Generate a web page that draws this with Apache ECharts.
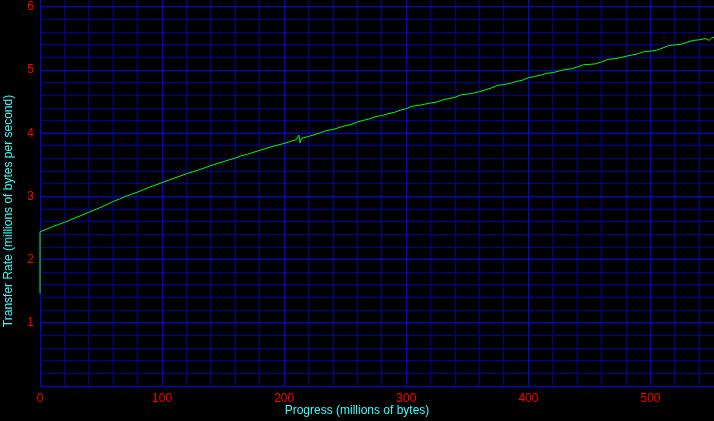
<!DOCTYPE html>
<html>
<head>
<meta charset="utf-8">
<script src="https://cdn.jsdelivr.net/npm/echarts@6/dist/echarts.min.js"></script>
<style>
html,body{margin:0;padding:0;background:#000;}
#chart{width:714px;height:421px;}
</style>
</head>
<body>
<div id="chart"></div>
<script>
// Progress (millions of bytes)
var progress = [0, 0, 5, 10, 15, 20, 25, 30, 35, 40, 45, 50, 55, 60, 65, 70, 75, 80, 85, 90, 95,
  100, 105, 110, 115, 120, 125, 130, 135, 140, 145, 150, 155, 160, 165, 170, 175, 180, 185, 190, 195,
  200, 205, 210, 212, 213, 214, 215, 220, 225, 230, 235, 240, 245, 250, 255, 260, 265, 270, 275, 280, 285, 290, 295,
  300, 305, 310, 315, 320, 325, 330, 335, 340, 345, 350, 355, 360, 365, 370, 375, 380, 385, 390, 395,
  400, 405, 410, 415, 420, 425, 430, 435, 440, 445, 450, 455, 460, 465, 470, 475, 480, 485, 490, 495,
  500, 505, 510, 515, 520, 525, 530, 535, 540, 545, 548, 550, 552];
// Transfer rate (millions of bytes per second)
var rate = [1.47, 2.44, 2.48, 2.52, 2.555, 2.59, 2.63, 2.67, 2.71, 2.75, 2.79, 2.83, 2.875, 2.92, 2.96, 3.00, 3.035, 3.07, 3.11, 3.15, 3.185,
  3.22, 3.255, 3.29, 3.325, 3.36, 3.39, 3.42, 3.455, 3.49, 3.52, 3.55, 3.58, 3.61, 3.645, 3.67, 3.70, 3.73, 3.76, 3.79, 3.815,
  3.84, 3.87, 3.90, 3.97, 3.85, 3.92, 3.925, 3.95, 3.98, 4.01, 4.045, 4.06, 4.09, 4.12, 4.14, 4.18, 4.205, 4.23, 4.265, 4.28, 4.31, 4.33, 4.365,
  4.39, 4.43, 4.44, 4.46, 4.48, 4.495, 4.53, 4.55, 4.57, 4.61, 4.62, 4.635, 4.66, 4.69, 4.72, 4.76, 4.77, 4.79, 4.82, 4.84,
  4.88, 4.90, 4.92, 4.95, 4.96, 4.985, 5.01, 5.02, 5.05, 5.085, 5.09, 5.10, 5.13, 5.17, 5.18, 5.195, 5.22, 5.24, 5.26, 5.295,
  5.30, 5.315, 5.35, 5.39, 5.40, 5.41, 5.44, 5.47, 5.48, 5.50, 5.47, 5.51, 5.52];
// Grid line values
var xMajorTicks = [100, 200, 300, 400, 500];
var xMinorTicks = [20, 40, 60, 80, 120, 140, 160, 180, 220, 240, 260, 280, 320, 340, 360, 380,
  420, 440, 460, 480, 520, 540];
var yMajorTicks = [1, 2, 3, 4, 5, 6];
var yMinorTicks = [0.2, 0.4, 0.6, 0.8, 1.2, 1.4, 1.6, 1.8, 2.2, 2.4, 2.6, 2.8, 3.2, 3.4, 3.6, 3.8,
  4.2, 4.4, 4.6, 4.8, 5.2, 5.4, 5.6, 5.8, 6.0];
var xTitle = 'Progress (millions of bytes)';
var yTitle = 'Transfer Rate (millions of bytes per second)';

var points = progress.map(function (x, i) { return [x, rate[i]]; });

// grid line items: [value, orientation (0 vertical, 1 horizontal), major flag]
var gridItems = [];
xMinorTicks.forEach(function (v) { gridItems.push([v, 0, 0]); });
yMinorTicks.forEach(function (v) { gridItems.push([v, 1, 0]); });
xMajorTicks.forEach(function (v) { gridItems.push([v, 0, 1]); });
yMajorTicks.forEach(function (v) { gridItems.push([v, 1, 1]); });

var chart = echarts.init(document.getElementById('chart'), null, {renderer: 'canvas'});
var labelFont = {color: '#ff0000', fontSize: 12, fontFamily: 'Liberation Sans, Arial, sans-serif'};
chart.setOption({
  backgroundColor: '#000000',
  animation: false,
  grid: {left: 40, right: 0, top: 0, bottom: 35, containLabel: false},
  xAxis: {
    type: 'value', min: 0, max: 552, interval: 100,
    axisLine: {show: true, onZero: false, lineStyle: {color: '#0000ff', width: 1}},
    axisTick: {show: false},
    axisLabel: Object.assign({margin: 7, showMaxLabel: false}, labelFont),
    splitLine: {show: false}
  },
  yAxis: {
    type: 'value', min: 0, max: 6.11, interval: 1,
    axisLine: {show: true, onZero: false, lineStyle: {color: '#0000ff', width: 1}},
    axisTick: {show: false},
    axisLabel: Object.assign({margin: 6, showMaxLabel: false, showMinLabel: false}, labelFont),
    splitLine: {show: false}
  },
  graphic: [
    {type: 'text', left: 'center', top: 405, style: {text: xTitle, fill: '#33ffff', font: '12px Liberation Sans, Arial, sans-serif'}},
    {type: 'text', x: 3, y: 211, rotation: Math.PI / 2,
      style: {text: yTitle, fill: '#33ffff', font: '12px Liberation Sans, Arial, sans-serif', align: 'center', verticalAlign: 'top'}}
  ],
  series: [{
    type: 'custom', silent: true, z: 1, clip: false,
    data: gridItems,
    encode: {x: -1, y: -1},
    renderItem: function (params, api) {
      var v = api.value(0), orient = api.value(1), major = api.value(2);
      var cs = params.coordSys;
      var stroke = major ? '#0000ff' : '#00009c';
      if (orient === 0) {
        var px = Math.floor(api.coord([v, 0])[0] + 0.01) + 0.5;
        return {type: 'line', shape: {x1: px, y1: cs.y, x2: px, y2: cs.y + cs.height},
          style: {stroke: stroke, lineWidth: 1}};
      }
      var py = Math.floor(api.coord([0, v])[1] + 0.01) + 0.5;
      return {type: 'line', shape: {x1: cs.x, y1: py, x2: cs.x + cs.width, y2: py},
        style: {stroke: stroke, lineWidth: 1}};
    }
  }, {
    type: 'line', data: points, showSymbol: false, symbol: 'none',
    lineStyle: {color: '#00ff00', width: 1}, z: 5
  }]
});
</script>
</body>
</html>
